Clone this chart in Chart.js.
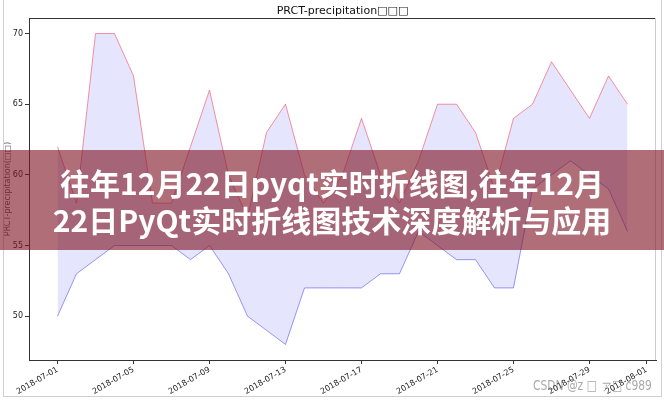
<!DOCTYPE html>
<html>
<head>
<meta charset="utf-8">
<script src="https://cdn.jsdelivr.net/npm/chart.js@4"></script>
<style>
  html, body { margin: 0; padding: 0; background: #fff; }
  #wrap { position: relative; width: 664px; height: 400px; overflow: hidden; }
  #banner {
    position: absolute; left: 0; top: 150px; width: 664px; height: 100px;
    background: rgba(126, 21, 37, 0.62);
    color: #fff; text-align: center;
    font-family: "Noto Sans CJK SC", sans-serif; font-weight: bold;
    font-size: 30px; line-height: 37px; padding-top: 14px; box-sizing: border-box;
  }
  #mark {
    position: absolute; right: 12px; top: 377px;
    font-family: "DejaVu Sans Condensed", sans-serif;
    font-size: 14px; color: rgba(110, 110, 110, 0.6);
    transform: scaleX(0.85); transform-origin: right top;
  }
</style>
</head>
<body>
<div id="wrap">
  <canvas id="chart" width="664" height="400"></canvas>
  <div id="banner">往年12月22日pyqt实时折线图,往年12月<br>22日PyQt实时折线图技术深度解析与应用</div>
  <div id="mark">CSDN @z □ ァ□ c989</div>
</div>
<script>
// days since 2018-07-01
const days = [0, 1, 2, 3, 4, 5, 6, 7, 8, 9, 10, 11, 12, 13, 14, 15,
              16, 17, 18, 19, 20, 21, 22, 23, 24, 25, 26, 27, 28, 29, 30];
const highValues = [62, 58, 70, 70, 67, 58, 58, 62, 66, 60, 57, 63, 65, 60, 58, 60,
                    64, 60, 58, 61, 65, 65, 63, 59, 64, 65, 68, 66, 64, 67, 65];
const lowValues = [50, 53, 54, 55, 55, 55, 55, 54, 55, 53, 50, 49, 48, 52, 52, 52,
                   52, 53, 53, 56, 55, 54, 54, 52, 52, 59, 60, 61, 60, 59, 56];
const xTickDays = [0, 4, 8, 12, 16, 20, 24, 28, 31];
const xTickLabels = ['2018-07-01', '2018-07-05', '2018-07-09', '2018-07-13', '2018-07-17',
                     '2018-07-21', '2018-07-25', '2018-07-29', '2018-08-01'];
const yTicks = [50, 55, 60, 65, 70];

const ctx = document.getElementById('chart');

// frame, title, top/right spines
const framePlugin = {
    id: 'frame',
    afterDraw(chart) {
        const c = chart.ctx;
        const a = chart.chartArea;
        c.save();
        c.strokeStyle = '#d0d0d0';
        c.lineWidth = 1;
        c.strokeRect(3.5, -0.5, 658, 397);
        c.strokeStyle = '#333';
        c.beginPath();
        c.moveTo(a.left, a.top + 0.5);
        c.lineTo(a.right, a.top + 0.5);
        c.stroke();
        c.strokeStyle = '#ccc';
        c.beginPath();
        c.moveTo(a.right - 0.5, a.top);
        c.lineTo(a.right - 0.5, a.bottom);
        c.stroke();
        c.fillStyle = '#111';
        c.font = '11px "DejaVu Sans"';
        c.textAlign = 'center';
        c.textBaseline = 'middle';
        c.fillText('PRCT-precipitation□□□', (a.left + a.right) / 2, 11);
        c.restore();
    }
};

new Chart(ctx, {
    type: 'line',
    data: {
        datasets: [{
            label: 'high',
            data: days.map((d, i) => ({ x: d, y: highValues[i] })),
            borderColor: 'rgba(240, 60, 80, 0.55)',
            backgroundColor: 'rgba(40, 40, 240, 0.12)',
            borderWidth: 1,
            pointRadius: 0,
            tension: 0,
            fill: '+1'
        }, {
            label: 'low',
            data: days.map((d, i) => ({ x: d, y: lowValues[i] })),
            borderColor: 'rgba(60, 60, 230, 0.5)',
            borderWidth: 1,
            pointRadius: 0,
            tension: 0,
            fill: false
        }]
    },
    options: {
        responsive: false,
        animation: false,
        devicePixelRatio: 1,
        layout: { padding: { left: 0, right: 8, top: 18, bottom: 0 } },
        plugins: {
            legend: { display: false },
            tooltip: { enabled: false },
            title: { display: false }
        },
        scales: {
            x: {
                type: 'linear',
                min: -1.5,
                max: 31.5,
                afterBuildTicks: s => { s.ticks = xTickDays.map(v => ({ value: v })); },
                afterFit: s => { s.height = 40; },
                ticks: {
                    color: '#222',
                    font: { family: 'DejaVu Sans', size: 8 },
                    minRotation: 30,
                    maxRotation: 30,
                    autoSkip: false,
                    padding: 1,
                    callback: v => xTickLabels[xTickDays.indexOf(v)]
                },
                grid: { drawOnChartArea: false, color: '#333', tickLength: 4 },
                border: { color: '#333' }
            },
            y: {
                min: 46.9,
                max: 71.1,
                afterBuildTicks: s => { s.ticks = yTicks.map(v => ({ value: v })); },
                afterFit: s => { s.width = 29; },
                ticks: {
                    color: '#222',
                    font: { family: 'DejaVu Sans', size: 8 },
                    padding: 2
                },
                title: {
                    display: true,
                    text: 'PRCT-precipitation(□□)',
                    color: '#555',
                    font: { family: 'DejaVu Sans', size: 8 },
                    padding: { top: 3, bottom: 0 }
                },
                grid: { drawOnChartArea: false, color: '#333', tickLength: 4 },
                border: { color: '#333' }
            }
        }
    },
    plugins: [framePlugin]
});
</script>
</body>
</html>
